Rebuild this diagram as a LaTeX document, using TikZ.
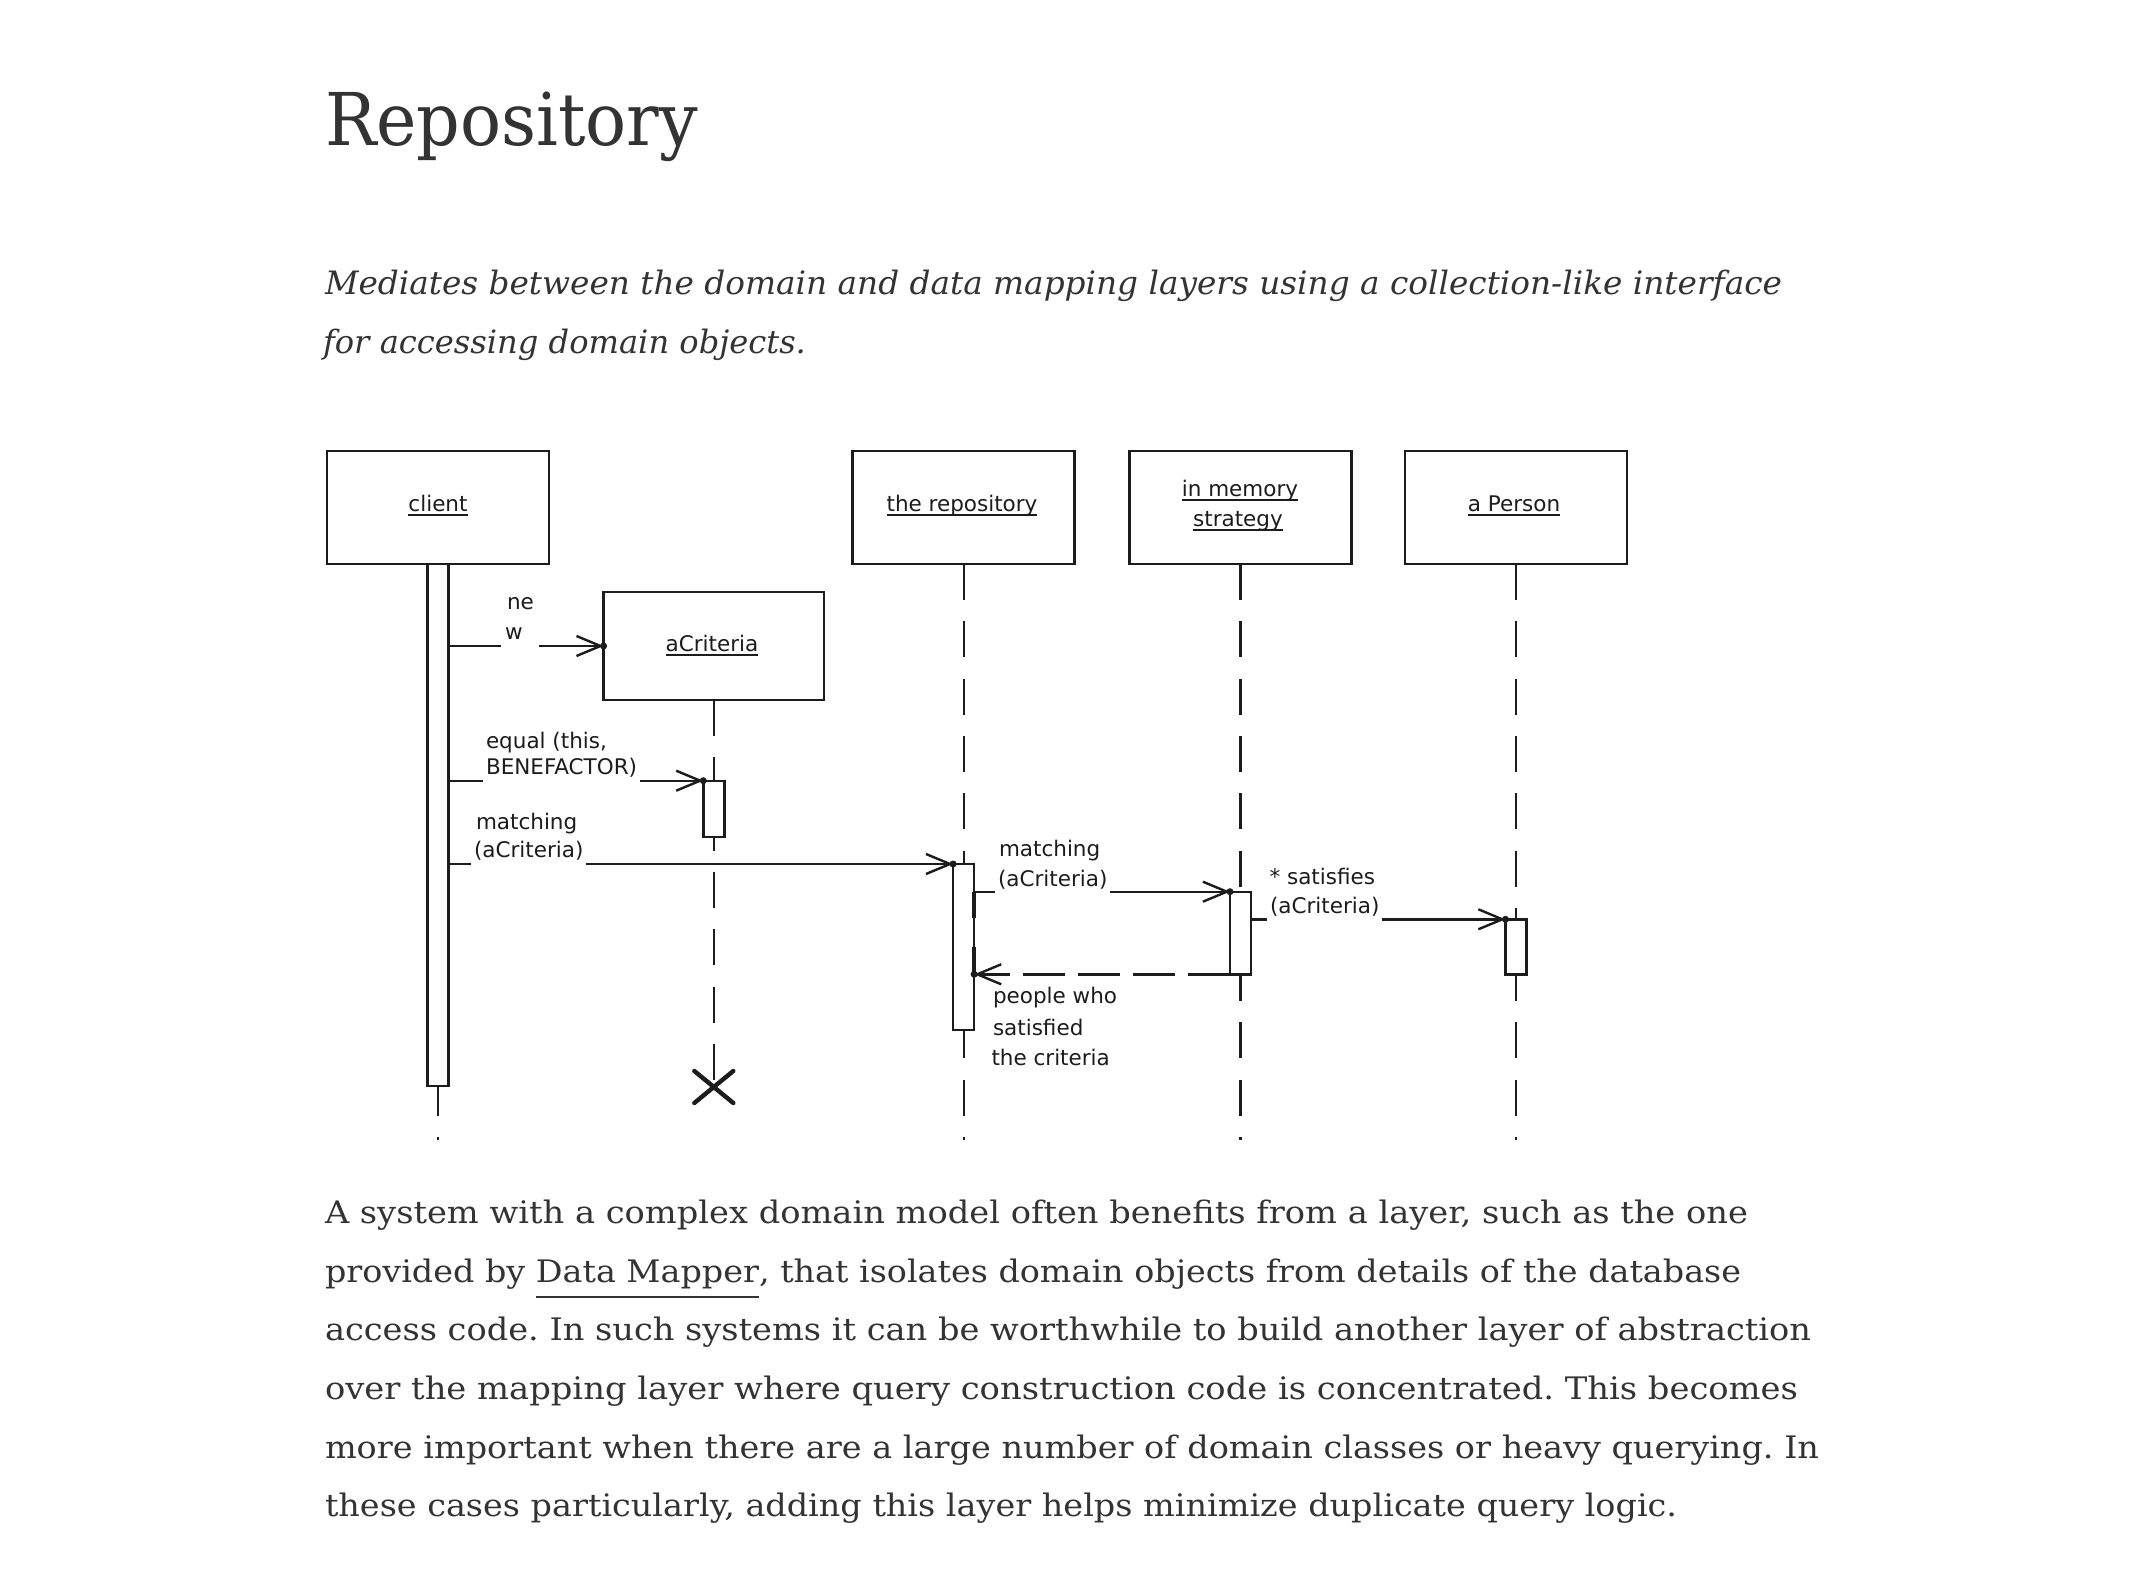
\documentclass[tikz,border=0pt]{standalone}
\usepackage{fontspec}
\usepackage{graphicx}
\usetikzlibrary{arrows.meta,shapes.misc}
\setmainfont{DejaVu Serif}
\newfontfamily\diafont{DejaVu Sans}
\definecolor{ink}{HTML}{333333}
\definecolor{lineink}{HTML}{1C1C1C}
\frenchspacing

% underlined instance name, as in a UML object box
\newcommand\objname[1]{\setbox0=\hbox{#1}\rlap{\rule[-2.3pt]{\wd0}{1.25pt}}\box0}
% link-style underline in the prose
\newcommand\linkname[1]{\setbox0=\hbox{#1}\rlap{\rule[-7.95pt]{\wd0}{1.2pt}}\box0}
% one line of prose set to a given width, height kept
\newcommand\fitline[2]{\resizebox{#1}{\height}{#2}}

\begin{document}
\begin{tikzpicture}[x=0.5pt,y=-0.5pt,
  every node/.style={inner sep=0pt, outer sep=0pt},
  prose/.style={anchor=base west, text=ink, font=\fontsize{15.5pt}{18pt}\selectfont},
  objbox/.style={draw=lineink, line width=1.35pt, minimum width=111pt, minimum height=56.5pt},
  bar/.style={draw=lineink, fill=white, line width=1.2pt, minimum width=10.5pt, anchor=north},
  lifeline/.style={draw=lineink, line width=1.1pt, dash pattern=on 18pt off 10.65pt},
  msg/.style={draw=lineink, line width=1.2pt},
  call/.style={msg, -{Straight Barb[length=12pt,width=10pt]}},
  reply/.style={msg, dash pattern=on 20.85pt off 6.65pt, -{Straight Barb[length=12pt,width=10pt]}},
  lbl/.style={anchor=base west, text=lineink, font=\diafont\fontsize{10.75pt}{13pt}\selectfont},
  objlbl/.style={lbl, anchor=base},
  gap/.style={inner xsep=1.5pt},
  tipdot/.style={fill=lineink}
]
\fill[white] (0,0) rectangle (2132,1588);
\useasboundingbox (0,0) rectangle (2132,1588);

% ---------------- heading and lead ----------------
\node[prose, font=\fontsize{36.4pt}{40pt}\selectfont] (title) at (325,146) {\fitline{186.5pt}{Repository}};
\node[prose, font=\itshape\fontsize{16.1pt}{20pt}\selectfont] (lead1) at (325,295)
  {\fitline{728.5pt}{Mediates between the domain and data mapping layers using a collection-like interface}};
\node[prose, font=\itshape\fontsize{16.1pt}{20pt}\selectfont] (lead2) at (323,353.3)
  {\fitline{241.5pt}{for accessing domain objects.}};

% ---------------- message levels ----------------
\coordinate (yEq) at (0,780.7);
\coordinate (yM1) at (0,864);
\coordinate (yM2) at (0,891.7);
\coordinate (yS)  at (0,919.3);
\coordinate (yT1) at (0,918.3);
\coordinate (yT2) at (0,946.7);
\coordinate (yT3) at (0,976.7);
\coordinate (yX)  at (0,1087);
\coordinate (yEnd) at (0,1140);

% ---------------- participants ----------------
\node[objbox] (client) at (438,507.5) {};
\node[objbox] (repo)   at (963.6,507.5) {};
\node[objbox] (mem)    at (1240.5,507.5) {};
\node[objbox] (person) at (1516,507.5) {};
\node[objbox, minimum width=110.2pt, minimum height=54pt] (crit) at (713.8,646) {};

\node[objlbl] (tclient) at (438,511.7)   {\objname{client}};
\node[objlbl] (trepo)   at (962,511.7)   {\objname{the repository}};
\node[objlbl] (tmem1)   at (1240,496.7)  {\objname{in memory}};
\node[objlbl] (tmem2)   at (1238,526.7)  {\objname{strategy}};
\node[objlbl] (tperson) at (1514,511.7)  {\objname{a Person}};
\node[objlbl] (tcrit)   at (712,651.7)   {\objname{aCriteria}};

% ---------------- lifelines ----------------
\draw[lifeline] (client.south) -- (client.south |- yEnd);
\draw[lifeline] (repo.south)   -- (repo.south |- yEnd);
\draw[lifeline] (mem.south)    -- (mem.south |- yEnd);
\draw[lifeline] (person.south) -- (person.south |- yEnd);
\node[cross out, draw=lineink, line width=2.2pt, line cap=round,
      minimum width=19.5pt, minimum height=16pt] (kill) at (crit.south |- yX) {};
\draw[lifeline] (crit.south) -- (kill.center);

% ---------------- activations ----------------
\node[bar, minimum height=261pt]  (cbar) at (client.south) {};
\node[bar, minimum height=28pt]   (abar) at (crit.south |- yEq) {};
\node[bar, minimum height=83pt]   (rbar) at (repo.south |- yM1) {};
\node[bar, minimum height=41.3pt] (mbar) at (mem.south |- yM2) {};
\node[bar, minimum height=27.5pt] (pbar) at (person.south |- yS) {};

% ---------------- labels ----------------
\node[lbl] (lnew1) at (507,610) {ne};
\node[lbl, text width=15pt, inner xsep=2pt, align=left] (lnew2) at (501,640) {w};
\node[lbl] (leq1) at (486,748) {equal (this,};
\node[lbl, gap] (leq2) at (483,775) {BENEFACTOR)};
\node[lbl] (lm1) at (476,829) {matching};
\node[lbl, gap] (lm2) at (471,857) {(aCriteria)};
\node[lbl] (lmm1) at (999,856.7) {matching};
\node[lbl, gap] (lmm2) at (995,886) {(aCriteria)};
\node[lbl] (ls1) at (1269.5,884) {* satisfies};
\node[lbl, gap] (ls2) at (1267,913.3) {(aCriteria)};
\node[lbl] (lp1) at (993,1003.3) {people who};
\node[lbl] (lp2) at (993,1035) {satisfied};
\node[lbl] (lp3) at (991.5,1065.7) {the criteria};

% ---------------- messages ----------------
% new
\draw[msg]  (cbar.east |- crit.west) -- (lnew2.west |- crit.west);
\draw[call] (lnew2.east |- crit.west) -- (crit.west);
\fill[tipdot] (crit.west) circle[radius=3.5];
% equal (this, BENEFACTOR)
\draw[msg]  (cbar.east |- abar.north) -- (leq2.west |- abar.north);
\draw[call] (leq2.east |- abar.north) -- (abar.north west);
\fill[tipdot] (abar.north west) circle[radius=3.5];
% matching (aCriteria) to the repository
\draw[msg]  (cbar.east |- rbar.north) -- (lm2.west |- rbar.north);
\draw[call] (lm2.east |- rbar.north) -- (rbar.north west);
\fill[tipdot] (rbar.north west) circle[radius=3.5];
% matching (aCriteria) to the strategy
\draw[msg]  (rbar.east |- mbar.north) -- (lmm2.west |- mbar.north);
\draw[call] (lmm2.east |- mbar.north) -- (mbar.north west);
\fill[tipdot] (mbar.north west) circle[radius=3.5];
% * satisfies (aCriteria)
\draw[msg]  (mbar.east |- pbar.north) -- (ls2.west |- pbar.north);
\draw[call] (ls2.east |- pbar.north) -- (pbar.north west);
\fill[tipdot] (pbar.north west) circle[radius=3.5];
% result back to the repository
\draw[reply] (mbar.south west) -- (rbar.east |- mbar.south);
\fill[tipdot] (rbar.east |- mbar.south) circle[radius=3.5];
% heavy marks on the repository activation
\draw[lineink, line width=2pt] (rbar.east |- yM2) -- (rbar.east |- yT1);
\draw[lineink, line width=2pt] (rbar.east |- yT2) -- (rbar.east |- yT3);

% ---------------- body text ----------------
\node[prose] (p1) at (325,1223.3) {\fitline{711.5pt}{A system with a complex domain model often benefits from a layer, such as the one}};
\node[prose] (p2) at (325,1282)   {\fitline{708pt}{provided by \linkname{Data Mapper}, that isolates domain objects from details of the database}};
\node[prose] (p3) at (325,1340.7) {\fitline{743pt}{access code. In such systems it can be worthwhile to build another layer of abstraction}};
\node[prose] (p4) at (325,1399.4) {\fitline{736.5pt}{over the mapping layer where query construction code is concentrated. This becomes}};
\node[prose] (p5) at (325,1458)   {\fitline{747pt}{more important when there are a large number of domain classes or heavy querying. In}};
\node[prose] (p6) at (325,1516.7) {\fitline{676pt}{these cases particularly, adding this layer helps minimize duplicate query logic.}};
\end{tikzpicture}
\end{document}
